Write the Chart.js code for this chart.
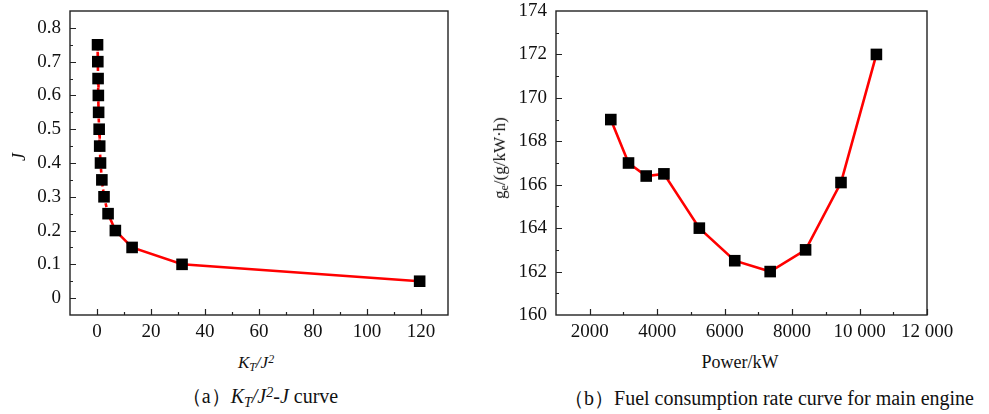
<!DOCTYPE html>
<html>
<head>
<meta charset="utf-8">
<script src="https://cdn.jsdelivr.net/npm/chart.js@4.4.1/dist/chart.umd.min.js"></script>
<style>
  html,body{margin:0;padding:0;background:#fff;}
  #wrap{position:relative;width:989px;height:414px;overflow:hidden;font-family:'Liberation Serif',serif;color:#111;}
  canvas{position:absolute;top:0;}
  #cA{left:0;}
  #cB{left:480px;}
  .lbl{position:absolute;white-space:nowrap;transform:translate(-50%,-50%);line-height:1;}
  .rot{transform:translate(-50%,-50%) rotate(-90deg);}
  .lbl sub{font-size:0.7em;vertical-align:-0.25em;}
  .lbl sup{font-size:0.7em;vertical-align:0.45em;}
</style>
</head>
<body>
<div id="wrap">
  <canvas id="cA" width="480" height="350"></canvas>
  <canvas id="cB" width="509" height="350"></canvas>

  <div class="lbl rot" style="left:19px;top:157px;font-size:18px;font-style:italic;">J</div>
  <div class="lbl" style="left:256px;top:364px;font-size:17px;font-style:italic;">K<sub>T</sub>/J<sup>2</sup></div>
  <div class="lbl" style="left:260px;top:398px;font-size:20px;">（a）<i>K<sub>T</sub>/J<sup>2</sup>-J</i> curve</div>

  <div class="lbl rot" style="left:501px;top:158px;font-size:17px;">g<sub>e</sub>/(g/kW·h)</div>
  <div class="lbl" style="left:740px;top:362px;font-size:18px;">Power/kW</div>
  <div class="lbl" style="left:769px;top:398px;font-size:20px;">（b）Fuel consumption rate curve for main engine</div>
</div>

<script>
/* =========================
   Data
========================= */
// (a) K_T/J^2 vs J
const ktj2 = [0.2, 0.3, 0.4, 0.5, 0.6, 0.8, 1.0, 1.3, 1.8, 2.6, 4.1, 6.8, 13, 31.5, 119.5];
const jVals = [0.75, 0.7, 0.65, 0.6, 0.55, 0.5, 0.45, 0.4, 0.35, 0.3, 0.25, 0.2, 0.15, 0.1, 0.05];
const xTicksA = [0, 20, 40, 60, 80, 100, 120];
const xMinorA = [-10, 10, 30, 50, 70, 90, 110, 130];
const yTicksA = [0, 0.1, 0.2, 0.3, 0.4, 0.5, 0.6, 0.7, 0.8];
const yTickLabelsA = ['0', '0.1', '0.2', '0.3', '0.4', '0.5', '0.6', '0.7', '0.8'];
const yMinorA = [0.05, 0.15, 0.25, 0.35, 0.45, 0.55, 0.65, 0.75];

// (b) fuel consumption rate vs power
const powerKW = [2625, 3150, 3675, 4200, 5250, 6300, 7350, 8400, 9450, 10500];
const fuelRate = [169, 167, 166.4, 166.5, 164, 162.5, 162, 163, 166.1, 172];
const xTicksB = [2000, 4000, 6000, 8000, 10000, 12000];
const xTickLabelsB = ['2000', '4000', '6000', '8000', '10 000', '12 000'];
const xMinorB = [1000, 3000, 5000, 7000, 9000, 11000];
const yTicksB = [160, 162, 164, 166, 168, 170, 172, 174];
const yMinorB = [161, 163, 165, 167, 169, 171, 173];

/* =========================
   Frame + inward ticks
========================= */
const frameTicks = {
  id: 'frameTicks',
  afterDraw(chart, args, o){
    const {ctx, chartArea:a, scales:{x, y}} = chart;
    ctx.save();
    ctx.strokeStyle = '#222';
    ctx.lineWidth = 1.4;
    ctx.strokeRect(a.left, a.top, a.right - a.left, a.bottom - a.top);
    ctx.lineWidth = 1.2;
    ctx.beginPath();
    const tx = (v, len) => { const p = Math.round(x.getPixelForValue(v)) + 0.5; ctx.moveTo(p, a.bottom); ctx.lineTo(p, a.bottom - len); };
    const ty = (v, len) => { const p = Math.round(y.getPixelForValue(v)) + 0.5; ctx.moveTo(a.left, p); ctx.lineTo(a.left + len, p); };
    o.xMajor.forEach(v => tx(v, 6));
    o.xMinor.forEach(v => { if (v > x.min && v < x.max) tx(v, 3); });
    o.yMajor.forEach(v => { if (v > y.min && v < y.max) ty(v, 6); });
    o.yMinor.forEach(v => ty(v, 3));
    ctx.stroke();
    ctx.restore();
  }
};

const tickFont = {family: 'Liberation Serif', size: 19};
const noGrid = { display: false, drawTicks: false, tickLength: 0 };

// fixed axis sizes, no extra label padding
const fitX = s => { s.height = 35; s.paddingLeft = 0; s.paddingRight = 0; };
const fitY = w => s => { s.width = w; s.paddingTop = 0; s.paddingBottom = 0; };

function baseOpts(){
  return {
    responsive: false,
    animation: false,
    plugins: { legend: { display: false }, tooltip: { enabled: false } },
    elements: { line: { tension: 0 } }
  };
}

/* =========================
   Chart (a)
========================= */
const optsA = baseOpts();
optsA.layout = { padding: { left: 0, top: 11, right: 32, bottom: 0 } };
optsA.plugins.frameTicks = { xMajor: xTicksA, xMinor: xMinorA, yMajor: yTicksA, yMinor: yMinorA };
optsA.scales = {
  x: {
    type: 'linear', min: -10, max: 130,
    grid: noGrid, border: { display: false },
    afterBuildTicks: s => { s.ticks = xTicksA.map(v => ({ value: v })); },
    afterFit: fitX,
    ticks: { color: '#111', font: tickFont, padding: 6, maxRotation: 0, autoSkip: false }
  },
  y: {
    type: 'linear', min: -0.05, max: 0.85,
    grid: noGrid, border: { display: false },
    afterBuildTicks: s => { s.ticks = yTicksA.map(v => ({ value: v })); },
    afterFit: fitY(70),
    ticks: {
      color: '#111', font: tickFont, padding: 9, autoSkip: false,
      callback: (v, i) => yTickLabelsA[i]
    }
  }
};

new Chart(document.getElementById('cA'), {
  type: 'scatter',
  data: {
    datasets: [{
      data: ktj2.map((v, i) => ({ x: v, y: jVals[i] })),
      showLine: true,
      borderColor: '#ff0000',
      borderWidth: 2.6,
      pointStyle: 'rect',
      pointRadius: 8.2,
      pointBackgroundColor: '#000',
      pointBorderWidth: 0,
      segment: {
        borderDash: ctx => ctx.p1.parsed.y >= 0.25 ? [4, 3] : undefined
      }
    }]
  },
  options: optsA,
  plugins: [frameTicks]
});

/* =========================
   Chart (b)
========================= */
const optsB = baseOpts();
optsB.layout = { padding: { left: 0, top: 11, right: 62, bottom: 0 } };
optsB.plugins.frameTicks = { xMajor: xTicksB, xMinor: xMinorB, yMajor: yTicksB, yMinor: yMinorB };
optsB.scales = {
  x: {
    type: 'linear', min: 1000, max: 12000,
    grid: noGrid, border: { display: false },
    afterBuildTicks: s => { s.ticks = xTicksB.map(v => ({ value: v })); },
    afterFit: fitX,
    ticks: {
      color: '#111', font: tickFont, padding: 6, maxRotation: 0, autoSkip: false,
      callback: (v, i) => xTickLabelsB[i]
    }
  },
  y: {
    type: 'linear', min: 160, max: 174,
    grid: noGrid, border: { display: false },
    afterBuildTicks: s => { s.ticks = yTicksB.map(v => ({ value: v })); },
    afterFit: fitY(76),
    ticks: { color: '#111', font: tickFont, padding: 9, autoSkip: false }
  }
};

new Chart(document.getElementById('cB'), {
  type: 'scatter',
  data: {
    datasets: [{
      data: powerKW.map((v, i) => ({ x: v, y: fuelRate[i] })),
      showLine: true,
      borderColor: '#ff0000',
      borderWidth: 2.6,
      pointStyle: 'rect',
      pointRadius: 8.2,
      pointBackgroundColor: '#000',
      pointBorderWidth: 0
    }]
  },
  options: optsB,
  plugins: [frameTicks]
});
</script>
</body>
</html>
